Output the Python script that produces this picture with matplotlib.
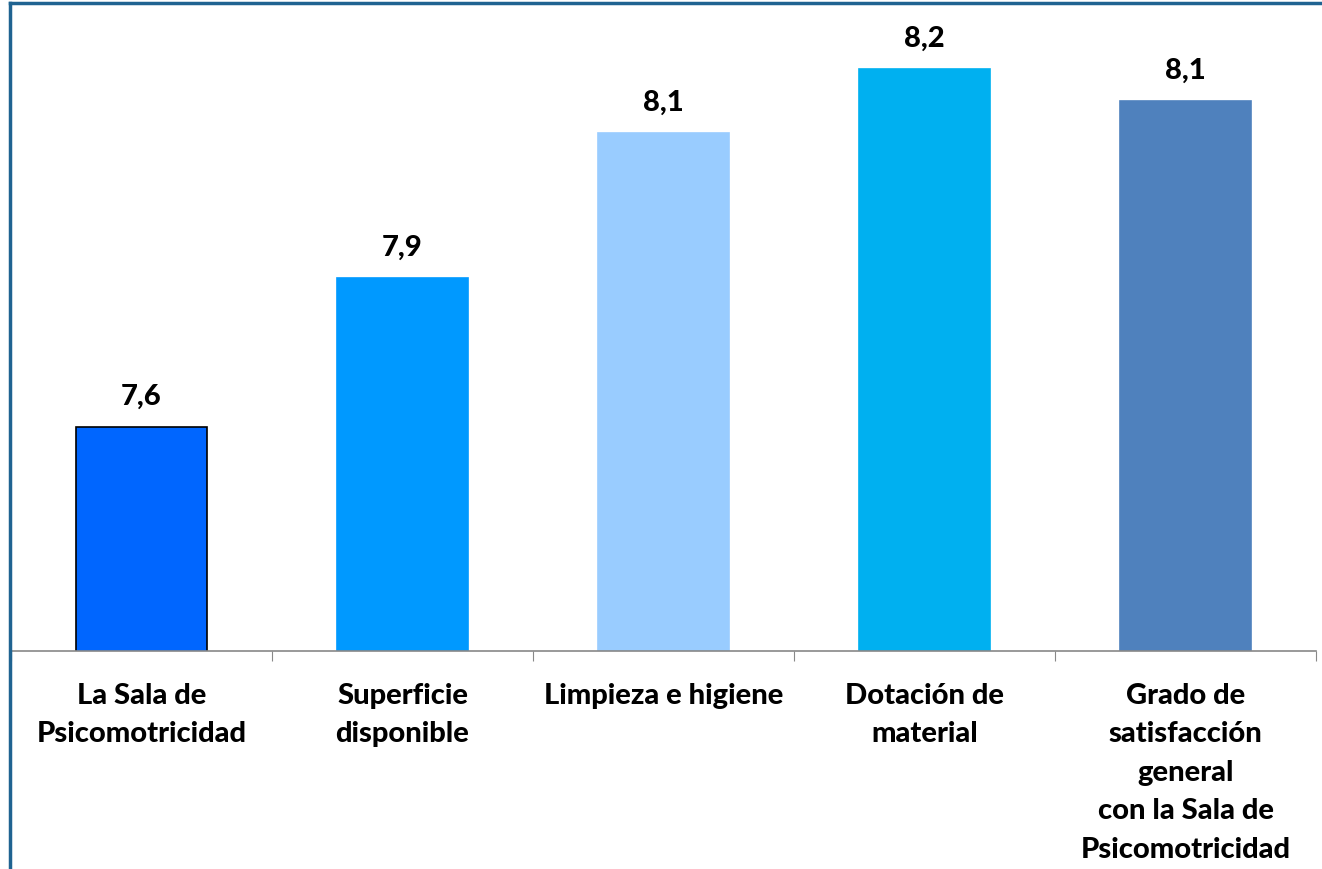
import matplotlib.pyplot as plt
from matplotlib.lines import Line2D

# ---------------------------------------------------------
# DATA
# ---------------------------------------------------------
categories = [
    'La Sala de\nPsicomotricidad',
    'Superficie\ndisponible',
    'Limpieza e higiene',
    'Dotación de\nmaterial',
    'Grado de\nsatisfacción\ngeneral\ncon la Sala de\nPsicomotricidad',
]
values = [7.62, 7.853, 8.08, 8.18, 8.13]
colors = ['#0066FF', '#0099FF', '#99CCFF', '#00B0F0', '#4F81BD']
edges = ['black', '#0099FF', '#99CCFF', '#00B0F0', '#4F81BD']

plt.rcParams['font.family'] = ['Lato', 'DejaVu Sans']

fig = plt.figure(figsize=(13.22, 8.70), dpi=100)
ax = fig.add_axes([11 / 1322, 218 / 870, 1305 / 1322, 642 / 870])

x = range(len(categories))
bars = ax.bar(x, values, width=0.5, color=colors, edgecolor=edges, linewidth=1.2)

for b, v in zip(bars, values):
    ax.annotate(f'{v:.1f}'.replace('.', ','), (b.get_x() + b.get_width() / 2, v),
                xytext=(0, 13), textcoords='offset points', ha='center', va='bottom',
                fontsize=21, fontweight='black')

ax.set_xlim(-0.5, len(categories) - 0.5)
ax.set_ylim(7.27, 7.27 + 642 / 640)

ax.set_xticks([i + 0.5 for i in range(-1, len(categories))], minor=False)
ax.set_xticklabels([])
ax.tick_params(axis='x', which='major', length=7, color='#888888', direction='out')
ax.set_xticks(list(x), minor=True)
ax.set_xticklabels(categories, minor=True, fontsize=21, fontweight='black', linespacing=1.6)
ax.tick_params(axis='x', which='minor', length=0, pad=22)
ax.set_yticks([])

for s in ['top', 'right', 'left']:
    ax.spines[s].set_visible(False)
ax.spines['bottom'].set_color('#888888')
ax.spines['bottom'].set_linewidth(1.2)

# outer chart frame (only left and top edges show)
fig.add_artist(Line2D([10 / 1322, 10 / 1322], [0, 866 / 870], color='#1F6391', linewidth=2.5))
fig.add_artist(Line2D([10 / 1322, 1], [866 / 870, 866 / 870], color='#1F6391', linewidth=2.5))

fig.savefig('out.png', dpi=100)
